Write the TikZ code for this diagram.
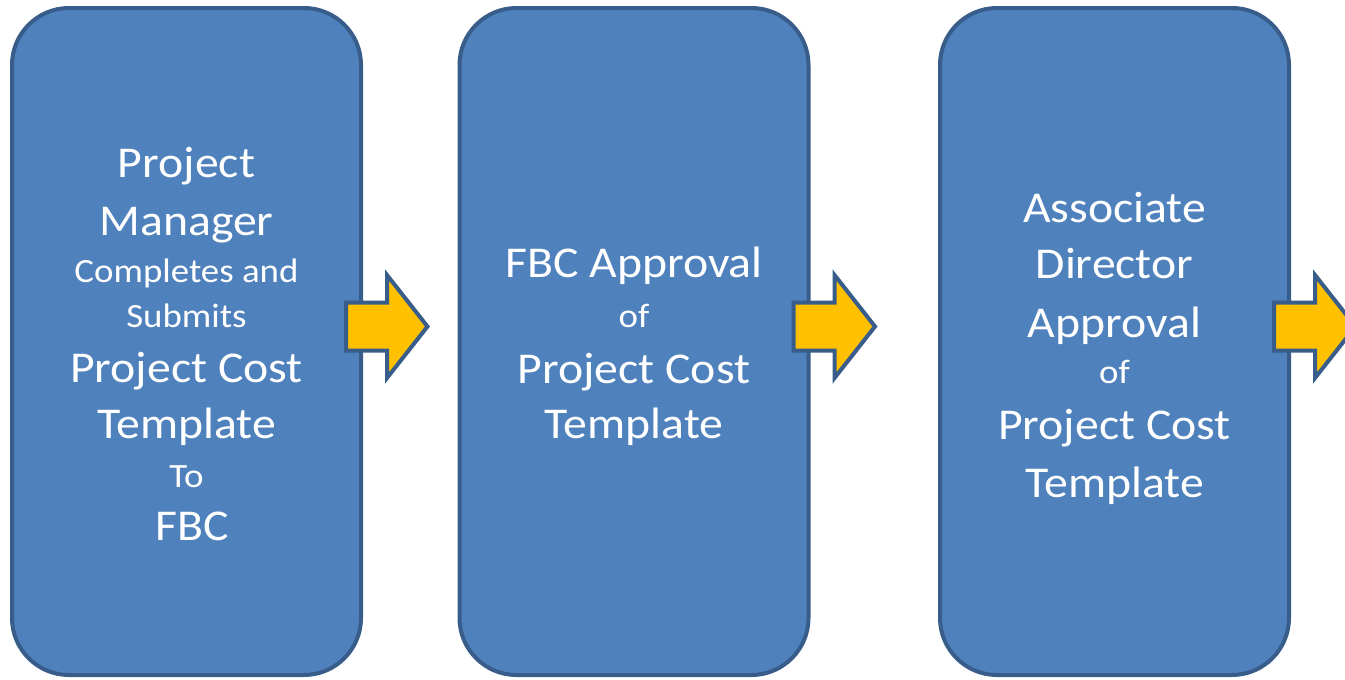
\documentclass[tikz,border=0pt]{standalone}
\usepackage{fontspec}
\setmainfont{Carlito}[FakeStretch=1.085]
\usetikzlibrary{calc}
\definecolor{boxfill}{HTML}{4F81BD}
\definecolor{boxline}{HTML}{385D8A}
\definecolor{arrowfill}{HTML}{FFC000}
\tikzset{
  stage/.style={draw=boxline, fill=boxfill, line width=4pt, rounded corners=57pt,
    minimum width=349pt, minimum height=667pt, inner sep=0pt, outer sep=0pt},
  flowarrow/.style={draw=boxline, fill=arrowfill, line width=4pt, line join=miter},
  big/.style={text=white, anchor=base, inner sep=0pt, font=\fontsize{44}{50}\selectfont},
  small/.style={text=white, anchor=base, inner sep=0pt, font=\fontsize{34}{40}\selectfont}
}
\begin{document}
\begin{tikzpicture}[x=1pt, y=-1pt]
\useasboundingbox (0,0) rectangle (1345,680);
\clip (0,0) rectangle (1345,680);

% three process stages
\node[stage] (b1) at (186.5,341.5) {};
\node[stage] (b2) at (634,341.5) {};
\node[stage] (b3) at (1114.5,341.5) {};

% yellow block arrows leaving each stage
\coordinate (ay) at (0,326.5);
\foreach \b in {b1,b2,b3}{
  \draw[flowarrow] ($(\b.east |- ay)+(-15,0)$) ++(0,-24) -- ++(41,0) -- ++(0,-27.5)
    -- ++(40.5,51.5) -- ++(-40.5,51.5) -- ++(0,-27.5) -- ++(-41,0) -- cycle;
}

% stage 1 text
\node[big]   (t1a) at (b1 |- 0,177) {Project};
\node[big]   (t1b) at (b1 |- 0,235) {Manager};
\node[small] (t1c) at (b1 |- 0,282) {Completes and};
\node[small] (t1d) at (b1 |- 0,327) {Submits};
\node[big]   (t1e) at (b1 |- 0,382) {Project Cost};
\node[big]   (t1f) at (b1 |- 0,438) {Template};
\node[small] (t1g) at (b1 |- 0,487) {To};
\node[big]   (t1h) at ($(b1 |- 0,540)+(6,0)$) {FBC};

% stage 2 text
\node[big]   (t2a) at (b2 |- 0,277) {FBC Approval};
\node[small] (t2b) at (b2 |- 0,327) {of};
\node[big]   (t2c) at (b2 |- 0,383) {Project Cost};
\node[big]   (t2d) at (b2 |- 0,438) {Template};

% stage 3 text
\node[big]   (t3a) at (b3 |- 0,222) {Associate};
\node[big]   (t3b) at (b3 |- 0,278) {Director};
\node[big]   (t3c) at (b3 |- 0,337) {Approval};
\node[small] (t3d) at (b3 |- 0,383) {of};
\node[big]   (t3e) at (b3 |- 0,439) {Project Cost};
\node[big]   (t3f) at (b3 |- 0,497) {Template};
\end{tikzpicture}
\end{document}
